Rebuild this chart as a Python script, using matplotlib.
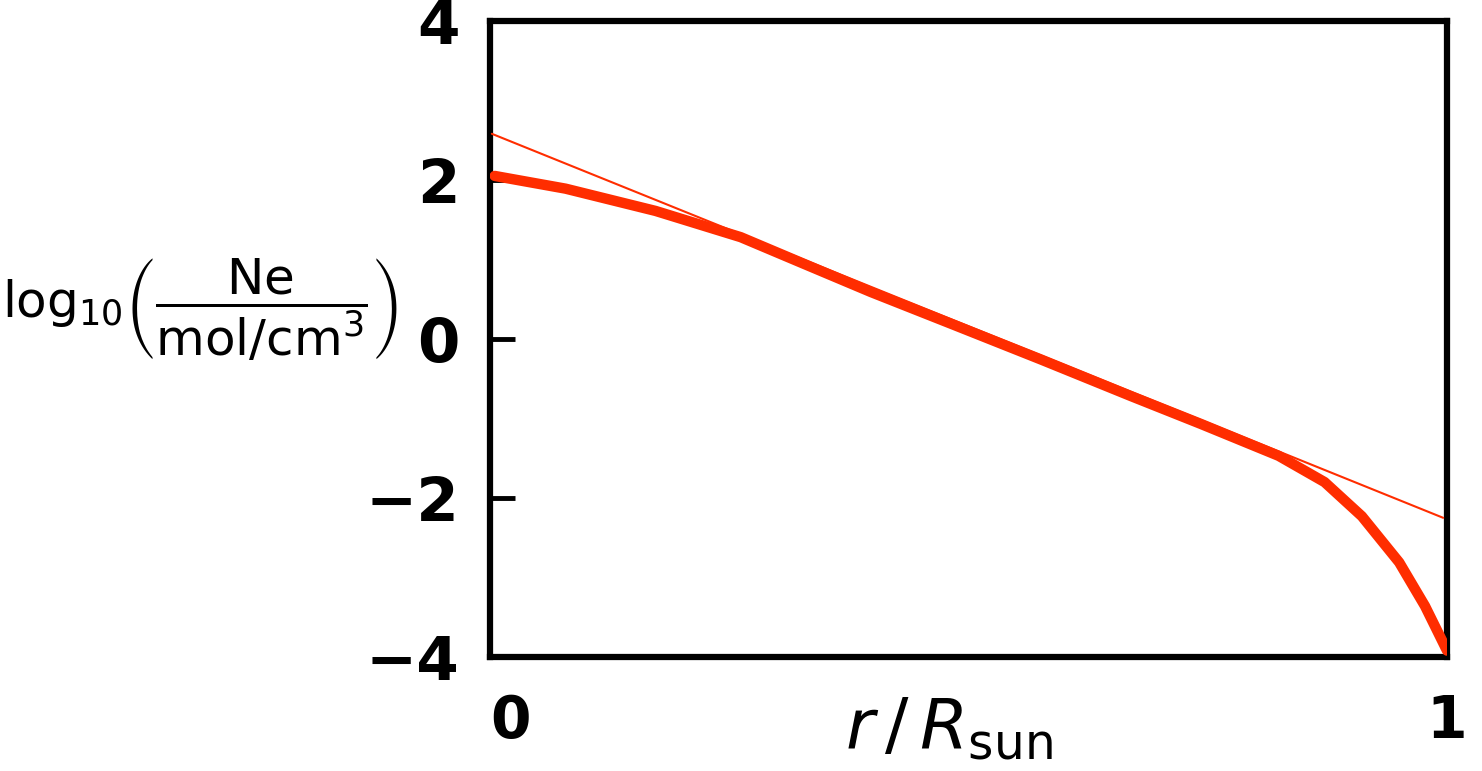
import matplotlib
matplotlib.use("Agg")
import matplotlib.pyplot as plt

# Neon density profile inside the Sun (log10 of Ne in mol/cm^3) vs fractional radius
r_profile = [0.005, 0.079, 0.173, 0.262, 0.325, 0.398, 0.482, 0.576, 0.670,
             0.743, 0.824, 0.872, 0.911, 0.950, 0.977, 1.0]
log_ne = [2.05, 1.89, 1.61, 1.28, 0.96, 0.59, 0.19, -0.26, -0.72,
          -1.07, -1.47, -1.80, -2.23, -2.81, -3.36, -3.92]

# Straight exponential fit drawn through the interior
r_fit = [0.002, 0.996]
log_fit = [2.58, -2.25]

y_ticks = [-4, -2, 0, 2, 4]
y_tick_labels = ["−4", "−2", "0", "2", "4"]
x_ticks = [0, 1]
x_tick_labels = ["0", "1"]

RED = "#ff2d00"

fig = plt.figure(figsize=(14.82, 7.71), dpi=100)
ax = fig.add_axes([0.3306, 0.1479, 0.6458, 0.8250])

ax.plot(r_fit, log_fit, color=RED, lw=1.5, solid_capstyle="round", zorder=3)
ax.plot(r_profile, log_ne, color=RED, lw=7.5, solid_capstyle="round",
        solid_joinstyle="round", zorder=4)

ax.set_xlim(0, 1)
ax.set_ylim(-4, 4)

for s in ax.spines.values():
    s.set_linewidth(4.5)
    s.set_color("black")

ax.set_yticks(y_ticks)
ax.set_yticklabels(y_tick_labels, fontsize=44, fontweight="bold")
ax.set_xticks(x_ticks)
ax.set_xticklabels(x_tick_labels, fontsize=42, fontweight="bold")
ax.tick_params(axis="y", direction="in", length=18, width=3.5, pad=22)
ax.tick_params(axis="x", length=0, pad=26)
ax.get_xticklabels()[0].set_ha("left")

fig.text(0.640, 0.055, r"$r\,/\,R_{\mathrm{sun}}$", fontsize=50,
         ha="center", va="center")
fig.text(0.135, 0.598,
         r"$\log_{10}\!\left(\dfrac{\mathrm{Ne}}{\mathrm{mol/cm^3}}\right)$",
         fontsize=36, ha="center", va="center")

fig.savefig("out.png", dpi=100, facecolor="white")
